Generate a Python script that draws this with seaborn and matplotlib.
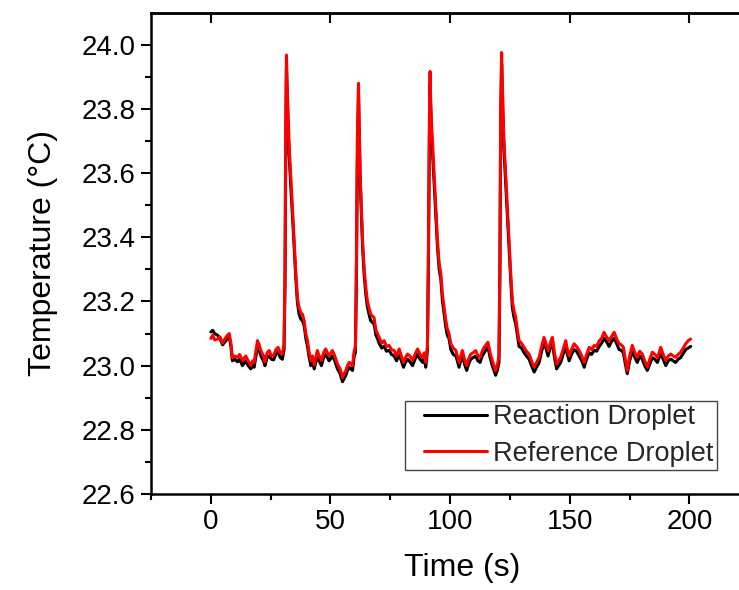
import numpy as np
import pandas as pd
import matplotlib
matplotlib.use("Agg")
import matplotlib.pyplot as plt
from matplotlib.lines import Line2D
from matplotlib.legend_handler import HandlerLine2D
import seaborn as sns

# ---- data ----
time_s = [0.0, 0.8, 1.6, 2.8, 3.8, 4.9, 6.0, 7.0, 7.7, 8.4, 9.0, 10.0, 11.1, 12.0, 13.2, 14.6, 15.6, 16.7, 17.5, 18.1,
          19.5, 20.2, 20.9, 22.0, 22.6, 23.5, 24.4, 25.3, 26.2, 27.2, 28.1, 29.0, 29.9, 30.6,
          31.0, 31.3, 31.6, 31.9, 32.3, 32.7, 33.4, 34.1, 34.8, 35.5, 36.2, 36.9, 37.6, 38.3, 39.0, 39.7,
          40.4, 41.1, 41.8, 42.5, 43.2, 44.5, 45.3, 46.2, 47.1, 48.0, 48.7, 49.4, 50.8, 51.8, 52.9, 54.0,
          55.0, 55.7, 56.4, 57.1, 57.8, 58.5, 59.2, 59.9, 60.4,
          60.8, 61.2, 61.7, 62.0, 62.4, 62.9, 63.4, 64.1, 64.8, 65.4, 66.1, 66.8, 67.5, 68.2, 69.0, 69.6,
          70.3, 71.4, 72.4, 73.4, 74.5, 75.5, 76.6, 77.6, 78.7, 79.6, 80.5, 81.3, 82.2, 83.2, 84.3, 85.3,
          86.4, 87.4, 88.5, 89.2, 89.8, 90.5,
          90.9, 91.3, 91.6, 91.9, 92.3, 92.6, 93.3, 94.0, 94.7, 95.4, 96.1, 96.8, 97.5, 98.2, 98.8, 99.5,
          100.3, 101.3, 102.4, 103.0, 103.7, 104.4, 105.1, 106.0, 106.9, 107.7, 108.6, 109.6, 110.7, 111.6,
          112.5, 113.4, 114.2, 115.0, 115.8, 116.7, 117.6, 118.3, 119.0, 119.7, 120.4,
          120.8, 121.1, 121.5, 121.8, 122.2, 122.5, 123.2, 123.9, 124.6, 125.3, 126.0, 126.7, 127.4, 128.1,
          128.8, 129.8, 130.9, 131.9, 133.0, 134.0, 135.1, 136.1, 137.2, 138.2, 139.2, 140.0, 140.9, 141.8,
          142.7, 143.6, 144.5, 145.3, 146.2, 147.2, 148.3, 149.0, 149.7, 150.7, 151.8, 152.8, 153.9, 155.0,
          156.0, 157.0, 158.1, 159.1, 160.2, 161.2, 162.3, 163.3, 164.3, 165.3, 166.4, 167.4, 168.5, 169.5,
          170.6, 171.5, 172.4, 173.2, 174.0, 175.0, 176.1, 177.2, 178.2, 179.2, 180.3, 181.3, 182.4, 183.4,
          184.5, 185.5, 186.6, 187.3, 188.0, 189.0, 190.1, 191.1, 192.2, 193.2, 194.2, 195.3, 196.3, 197.4,
          198.4, 199.5, 200.5]

reference_temp = [23.085, 23.095, 23.080, 23.083, 23.090, 23.070, 23.085, 23.095, 23.100, 23.070, 23.025, 23.030,
                  23.026, 23.035, 23.016, 23.030, 23.015, 23.000, 23.015, 23.010,
                  23.078, 23.065, 23.047, 23.030, 23.012, 23.040, 23.047, 23.030, 23.031, 23.050, 23.057, 23.040,
                  23.036, 23.068,
                  23.300, 23.750, 23.968, 23.870, 23.780, 23.690, 23.590, 23.495, 23.390, 23.290, 23.210, 23.180,
                  23.165, 23.160, 23.140, 23.100,
                  23.078, 23.040, 23.016, 23.030, 23.002, 23.047, 23.030, 23.016, 23.040, 23.052, 23.040, 23.031,
                  23.047, 23.030, 23.005, 22.990,
                  22.963, 22.975, 22.984, 23.000, 23.010, 23.005, 23.000, 23.047, 23.057,
                  23.300, 23.700, 23.880, 23.750, 23.600, 23.490, 23.390, 23.300, 23.240, 23.203, 23.180, 23.160,
                  23.155, 23.150, 23.110, 23.100,
                  23.088, 23.070, 23.078, 23.060, 23.063, 23.050, 23.047, 23.030, 23.052, 23.030, 23.010, 23.025,
                  23.036, 23.030, 23.016, 23.035,
                  23.052, 23.035, 23.026, 23.040, 23.010, 23.060,
                  23.350, 23.750, 23.917, 23.820, 23.740, 23.700, 23.600, 23.495, 23.390, 23.320, 23.287, 23.220,
                  23.180, 23.140, 23.115, 23.100,
                  23.068, 23.055, 23.047, 23.030, 23.010, 23.030, 23.047, 23.020, 23.000, 23.020, 23.036, 23.040,
                  23.047, 23.030,
                  23.026, 23.045, 23.057, 23.065, 23.073, 23.040, 23.016, 23.000, 22.984, 23.000, 23.030,
                  23.350, 23.800, 23.976, 23.880, 23.760, 23.700, 23.600, 23.495, 23.390, 23.287, 23.200, 23.170,
                  23.150, 23.110,
                  23.078, 23.070, 23.057, 23.045, 23.036, 23.015, 22.995, 23.010, 23.026, 23.060, 23.088, 23.070,
                  23.047, 23.070,
                  23.088, 23.040, 23.005, 23.015, 23.026, 23.050, 23.078, 23.050, 23.031, 23.050, 23.068, 23.060,
                  23.047, 23.030,
                  23.010, 23.035, 23.057, 23.050, 23.063, 23.060, 23.078, 23.085, 23.104, 23.090, 23.078, 23.090,
                  23.104, 23.085,
                  23.068, 23.065, 23.057, 23.020, 22.984, 23.030, 23.063, 23.040, 23.026, 23.045, 23.036, 23.015,
                  22.995, 23.020,
                  23.042, 23.035, 23.026, 23.040, 23.057, 23.035, 23.016, 23.030, 23.036, 23.030, 23.026, 23.035,
                  23.042, 23.055,
                  23.068, 23.078, 23.083]

reaction_temp = [23.105, 23.110, 23.100, 23.095, 23.085, 23.065, 23.075, 23.085, 23.090, 23.060, 23.015, 23.020,
                 23.012, 23.020, 23.000, 23.015, 23.000, 22.990, 23.000, 22.995,
                 23.060, 23.050, 23.030, 23.015, 23.000, 23.025, 23.030, 23.020, 23.018, 23.035, 23.045, 23.025,
                 23.020, 23.050,
                 23.250, 23.650, 23.930, 23.840, 23.740, 23.660, 23.560, 23.470, 23.370, 23.275, 23.195, 23.160,
                 23.145, 23.140, 23.125, 23.085,
                 23.060, 23.025, 23.000, 23.015, 22.990, 23.030, 23.015, 23.000, 23.025, 23.035, 23.025, 23.015,
                 23.030, 23.015, 22.990, 22.975,
                 22.950, 22.960, 22.970, 22.985, 22.995, 22.990, 22.985, 23.030, 23.040,
                 23.250, 23.620, 23.840, 23.720, 23.580, 23.470, 23.370, 23.280, 23.220, 23.185, 23.160, 23.140,
                 23.135, 23.130, 23.095, 23.085,
                 23.070, 23.055, 23.060, 23.045, 23.048, 23.035, 23.030, 23.015, 23.035, 23.015, 22.995, 23.010,
                 23.020, 23.012, 23.000, 23.020,
                 23.035, 23.020, 23.010, 23.025, 22.995, 23.045,
                 23.300, 23.680, 23.880, 23.790, 23.710, 23.670, 23.570, 23.475, 23.370, 23.300, 23.270, 23.200,
                 23.160, 23.120, 23.095, 23.085,
                 23.050, 23.035, 23.030, 23.015, 22.995, 23.015, 23.030, 23.005, 22.985, 23.005, 23.020, 23.025,
                 23.030, 23.015,
                 23.010, 23.030, 23.040, 23.050, 23.058, 23.025, 23.000, 22.985, 22.970, 22.985, 23.010,
                 23.300, 23.720, 23.940, 23.850, 23.730, 23.670, 23.570, 23.475, 23.370, 23.270, 23.180, 23.150,
                 23.130, 23.095,
                 23.060, 23.055, 23.040, 23.030, 23.020, 23.000, 22.980, 22.995, 23.010, 23.045, 23.070, 23.055,
                 23.030, 23.055,
                 23.070, 23.025, 22.990, 23.000, 23.010, 23.035, 23.060, 23.035, 23.015, 23.035, 23.050, 23.045,
                 23.030, 23.015,
                 22.995, 23.020, 23.040, 23.035, 23.048, 23.045, 23.060, 23.070, 23.085, 23.075, 23.060, 23.075,
                 23.085, 23.070,
                 23.050, 23.048, 23.040, 23.005, 22.975, 23.015, 23.045, 23.025, 23.010, 23.030, 23.020, 23.000,
                 22.985, 23.005,
                 23.025, 23.020, 23.010, 23.025, 23.040, 23.020, 23.000, 23.015, 23.020, 23.015, 23.010, 23.020,
                 23.025, 23.038,
                 23.050, 23.055, 23.060]

series_names = ["Reaction Droplet", "Reference Droplet"]
series_colors = ["#000000", "#ff0000"]

x_ticks = [0, 50, 100, 150, 200]
y_ticks = [22.6, 22.8, 23.0, 23.2, 23.4, 23.6, 23.8, 24.0]

# ---- build long-format table ----
df = pd.concat([
    pd.DataFrame({"Time": time_s, "Temp": reaction_temp, "Series": series_names[0]}),
    pd.DataFrame({"Time": time_s, "Temp": reference_temp, "Series": series_names[1]}),
], ignore_index=True)

sns.set_theme(style="ticks")
plt.rcParams["font.family"] = ["Liberation Sans", "DejaVu Sans"]

fig = plt.figure(figsize=(7.39, 5.90), dpi=100)
ax = fig.add_axes([151 / 739, 96 / 590, 0.842, 481.3 / 590])

sns.lineplot(data=df, x="Time", y="Temp", hue="Series", hue_order=series_names,
             palette=dict(zip(series_names, series_colors)), estimator=None, sort=False,
             linewidth=2.2, ax=ax, legend=True)

ax.set_xlim(-25, 235)
ax.set_ylim(22.6, 24.1)
ax.set_xticks(x_ticks)
ax.set_xticks([-25, 25, 75, 125, 175, 225], minor=True)
ax.set_yticks(y_ticks)
ax.set_yticklabels([f"{v:.1f}" for v in y_ticks])
ax.set_yticks([22.7, 22.9, 23.1, 23.3, 23.5, 23.7, 23.9], minor=True)

for side in ["left", "bottom", "top"]:
    ax.spines[side].set_linewidth(1.8)
    ax.spines[side].set_color("black")
ax.spines["right"].set_visible(False)

ax.tick_params(axis="both", which="major", direction="out", length=7, width=1.5,
               labelsize=20, colors="black", pad=4)
ax.tick_params(axis="both", which="minor", direction="out", length=4, width=1.5, colors="black")
ax.tick_params(right=False, top=False)

sec = ax.secondary_xaxis("top")
sec.set_xticks(x_ticks)
sec.tick_params(direction="in", length=7, width=1.5, labeltop=False, colors="black")
sec.spines["top"].set_linewidth(1.8)

ax.set_xlabel("Time (s)", fontsize=23, color="black", labelpad=13)
ax.set_ylabel("Temperature (\u00b0C)", fontsize=23, color="black", labelpad=17)

handles, labels = ax.get_legend_handles_labels()
for h in handles:
    h.set_linewidth(2.2)
leg = ax.legend(handles, labels, loc="lower left", bbox_to_anchor=(0.408, 0.05),
                borderaxespad=0, fontsize=19.5, frameon=True, fancybox=False,
                handlelength=2.9, handletextpad=0.25, borderpad=0.12, labelspacing=0.39,
                handler_map={Line2D: HandlerLine2D(xpad=0.6)})
leg.get_frame().set_edgecolor("#444444")
leg.get_frame().set_linewidth(1.0)
leg.get_frame().set_alpha(1)

fig.savefig("out.png", dpi=100)
